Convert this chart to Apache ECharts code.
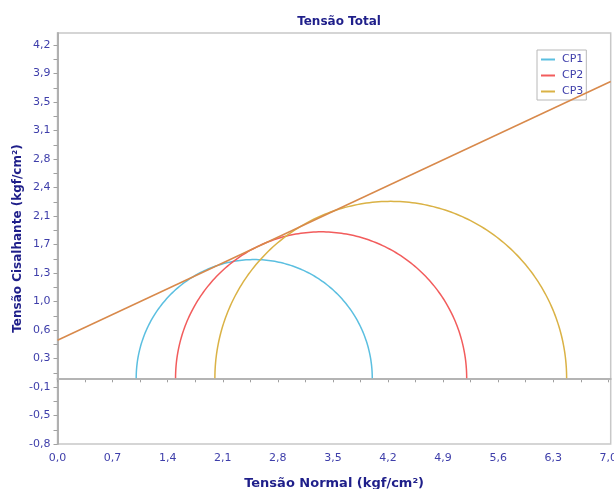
<!DOCTYPE html>
<html><head><meta charset="utf-8">
<script src="https://cdn.jsdelivr.net/npm/echarts@6/dist/echarts.min.js"></script>
<style>html,body{margin:0;padding:0;background:#fff}#c{width:614px;height:489px}</style>
</head><body><div id="c"></div>
<script>
// Mohr circles: minor and major principal stresses (kgf/cm²)
const circleNames = ['CP1', 'CP2', 'CP3'];
const sigma3 = [1.0, 1.5, 2.0];
const sigma1 = [4.0, 5.2, 6.47];
// Failure envelope end points
const envelopeX = [0, 7.03];
const envelopeY = [0.48, 3.75];
// Axis ticks
const xTickValues = [0, 0.7, 1.4, 2.1, 2.8, 3.5, 4.2, 4.9, 5.6, 6.3, 7.0];
const xTickLabels = ['0,0', '0,7', '1,4', '2,1', '2,8', '3,5', '4,2', '4,9', '5,6', '6,3', '7,0'];
const yTickValues = [-0.83, -0.47, -0.11, 0.25, 0.61, 0.97, 1.33, 1.69, 2.05, 2.41, 2.77, 3.13, 3.49, 3.85, 4.21];
const yTickLabels = ['-0,8', '-0,5', '-0,1', '0,3', '0,6', '1,0', '1,3', '1,7', '2,1', '2,4', '2,8', '3,1', '3,5', '3,9', '4,2'];

function withMinor(vals) {
  const out = [];
  for (let i = 0; i < vals.length; i++) {
    out.push(vals[i]);
    if (i < vals.length - 1) out.push((vals[i] + vals[i + 1]) / 2);
  }
  return out;
}
function labelFor(vals, labels) {
  return function (v) {
    for (let i = 0; i < vals.length; i++) if (Math.abs(vals[i] - v) < 1e-6) return labels[i];
    return '';
  };
}

const circleColors = ['#5bbfe0', '#f25c5c', '#dab245'];
const labelColor = '#3e3eaa';
const nameColor = '#1f1f8a';

const circleSeries = circleNames.map(function (name, i) {
  return {
    type: 'custom',
    name: name,
    coordinateSystem: 'cartesian2d',
    itemStyle: { color: circleColors[i] },
    data: [[sigma3[i], sigma1[i]]],
    encode: { x: [0, 1], y: [] },
    z: 3,
    renderItem: function (params, api) {
      const s3 = api.value(0), s1 = api.value(1);
      const c = (s3 + s1) / 2, r = (s1 - s3) / 2;
      const pts = [];
      for (let k = 0; k <= 180; k++) {
        const t = Math.PI * k / 180;
        pts.push(api.coord([c - r * Math.cos(t), r * Math.sin(t)]));
      }
      return {
        type: 'polyline',
        shape: { points: pts },
        style: { stroke: api.visual('color'), lineWidth: 1.5, fill: null }
      };
    }
  };
});

const chart = echarts.init(document.getElementById('c'), null, { renderer: 'canvas' });
chart.setOption({
  animation: false,
  backgroundColor: '#ffffff',
  title: {
    text: 'Tensão Total',
    left: 334, top: 11, textAlign: 'center',
    textStyle: { fontFamily: 'DejaVu Sans', fontSize: 12, fontWeight: 'bold', color: nameColor }
  },
  legend: {
    orient: 'vertical',
    left: 537, top: 50,
    data: circleNames.map(function (n) { return { name: n, icon: 'rect' }; }),
    itemWidth: 14, itemHeight: 2, itemGap: 5,
    padding: [4, 3, 3, 4],
    borderColor: '#b8b8b8', borderWidth: 1, backgroundColor: '#ffffff',
    textStyle: { fontFamily: 'DejaVu Sans', fontSize: 11, color: labelColor, padding: [0, 0, 0, 2] }
  },
  grid: {
    left: 57.5, right: 3.3, top: 33, bottom: 45,
    outerBoundsMode: 'none', containLabel: false,
    show: true, borderColor: '#c8c8c8', borderWidth: 1.5, backgroundColor: '#ffffff'
  },
  xAxis: {
    type: 'value', min: 0, max: 7.03,
    name: 'Tensão Normal (kgf/cm²)', nameLocation: 'middle', nameGap: 33, nameMoveOverlap: false,
    nameTextStyle: { fontFamily: 'DejaVu Sans', fontSize: 13, fontWeight: 'bold', color: nameColor },
    axisLine: { show: true, lineStyle: { color: '#b0b0b0', width: 2 } },
    axisTick: { show: true, inside: false, length: 4, customValues: withMinor(xTickValues), lineStyle: { color: '#a0a0a0' } },
    axisLabel: { customValues: xTickValues, formatter: labelFor(xTickValues, xTickLabels), margin: 9,
      fontFamily: 'DejaVu Sans', fontSize: 11, color: labelColor },
    splitLine: { show: false }
  },
  yAxis: {
    type: 'value', min: -0.83, max: 4.362,
    name: 'Tensão Cisalhante (kgf/cm²)', nameLocation: 'middle', nameGap: 34, nameRotate: 90, nameMoveOverlap: false,
    nameTextStyle: { fontFamily: 'DejaVu Sans', fontSize: 12, fontWeight: 'bold', color: nameColor },
    axisLine: { show: true, lineStyle: { color: '#b0b0b0', width: 2 } },
    axisTick: { show: true, inside: false, length: 4, customValues: withMinor(yTickValues), lineStyle: { color: '#a0a0a0' } },
    axisLabel: { customValues: yTickValues, formatter: labelFor(yTickValues, yTickLabels), margin: 7,
      fontFamily: 'DejaVu Sans', fontSize: 11, color: labelColor },
    splitLine: { show: false }
  },
  series: [{
    type: 'line',
    name: 'Envoltória',
    data: envelopeX.map(function (x, i) { return [x, envelopeY[i]]; }),
    showSymbol: false, symbol: 'none',
    lineStyle: { color: '#d8894b', width: 1.5 },
    z: 4,
    markLine: {
      silent: true, symbol: 'none', label: { show: false },
      lineStyle: { color: '#b4b4b4', width: 2, type: 'solid' },
      data: [{ yAxis: 0 }],
      z: 2
    }
  }].concat(circleSeries)
});
</script></body></html>
